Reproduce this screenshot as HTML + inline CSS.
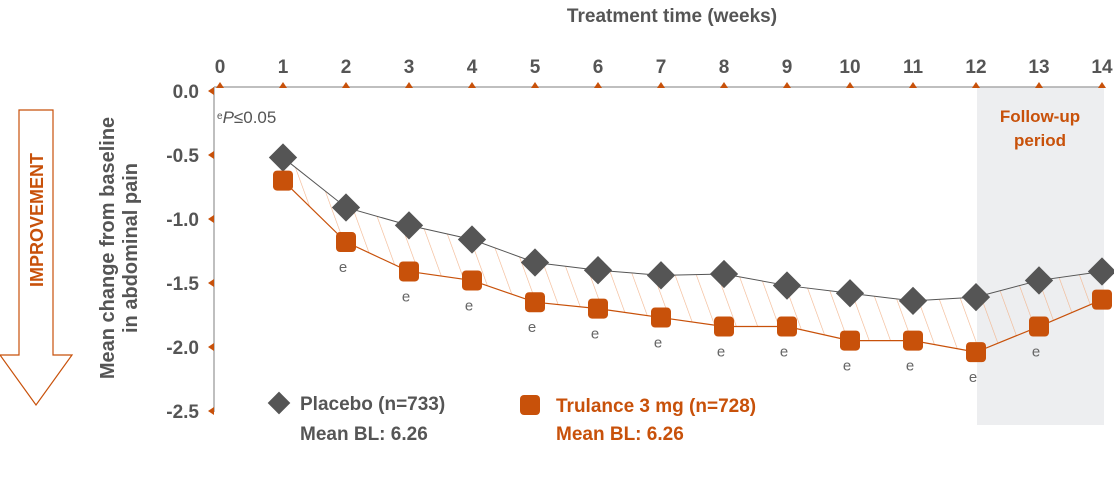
<!DOCTYPE html>
<html><head><meta charset="utf-8"><style>
body{margin:0;background:#fff;width:1114px;height:474px;overflow:hidden}
svg{font-family:"Liberation Sans",sans-serif}
</style></head><body>
<svg id="chart" width="1114" height="474" viewBox="0 0 1114 474">
<defs>
<pattern id="hatch" patternUnits="userSpaceOnUse" width="20" height="20" patternTransform="rotate(-20)">
<line x1="0" y1="0" x2="0" y2="20" stroke="#f2b48c" stroke-width="1.2"/>
</pattern>
</defs>
<text x="672" y="22" text-anchor="middle" font-size="19" font-weight="bold" fill="#555">Treatment time (weeks)</text>
<rect x="977" y="87" width="127" height="338" fill="#edeef0"/>
<text x="1040" y="122" text-anchor="middle" font-size="17" font-weight="bold" fill="#c8510a">Follow-up</text>
<text x="1040" y="146" text-anchor="middle" font-size="17" font-weight="bold" fill="#c8510a">period</text>
<line x1="214" y1="87" x2="1104" y2="87" stroke="#aaa" stroke-width="1.5"/>
<line x1="214" y1="87" x2="214" y2="412" stroke="#aaa" stroke-width="1.5"/>
<g id="xticks"></g><g id="yticks"></g>
<path id="hatchArea" fill="url(#hatch)"/>
<polyline id="pLine" fill="none" stroke="#555" stroke-width="1"/>
<polyline id="tLine" fill="none" stroke="#c8510a" stroke-width="1.2"/>
<g id="marks"></g>
<text x="217" y="123" font-size="17" fill="#555"><tspan font-size="10" dy="-4">e</tspan><tspan font-style="italic" dy="4">P</tspan>≤0.05</text>
<g>
<path d="M19 110 H53 V355 H72 L36 405 L0 355 H19 Z" fill="none" stroke="#c8510a" stroke-width="1.2"/>
<text x="43" y="220" transform="rotate(-90 43 220)" text-anchor="middle" font-size="18" font-weight="bold" fill="#c8510a">IMPROVEMENT</text>
</g>
<text transform="translate(114 248) rotate(-90)" text-anchor="middle" font-size="20" font-weight="bold" fill="#555">Mean change from baseline</text>
<text transform="translate(137 248) rotate(-90)" text-anchor="middle" font-size="20" font-weight="bold" fill="#555">in abdominal pain</text>
<g>
<rect x="271" y="395" width="16" height="16" fill="#555" transform="rotate(45 279 403)"/>
<text x="300" y="410" font-size="19" font-weight="bold" fill="#555">Placebo (n=733)</text>
<text x="300" y="440" font-size="19" font-weight="bold" fill="#555">Mean BL: 6.26</text>
</g>
<g>
<rect x="520" y="395" width="20" height="20" rx="4" fill="#c8510a"/>
<text x="556" y="412" font-size="19" font-weight="bold" fill="#c8510a">Trulance 3 mg (n=728)</text>
<text x="556" y="440" font-size="19" font-weight="bold" fill="#c8510a">Mean BL: 6.26</text>
</g>
</svg>
<script>
const weeks=[0,1,2,3,4,5,6,7,8,9,10,11,12,13,14];
const yTicks=[0,-0.5,-1,-1.5,-2,-2.5];
const yTickLabels=["0.0","-0.5","-1.0","-1.5","-2.0","-2.5"];
const dataWeeks=[1,2,3,4,5,6,7,8,9,10,11,12,13,14];
const placebo=[-0.52,-0.91,-1.05,-1.16,-1.34,-1.40,-1.44,-1.43,-1.52,-1.58,-1.64,-1.61,-1.48,-1.41];
const trulance=[-0.70,-1.18,-1.41,-1.48,-1.65,-1.70,-1.77,-1.84,-1.84,-1.95,-1.95,-2.04,-1.84,-1.63];
const significant=[false,true,true,true,true,true,true,true,true,true,true,true,true,false];
const NS="http://www.w3.org/2000/svg";
const X=w=>220+w*63, Y=v=>91-v*128;
function mk(t,a,p){const e=document.createElementNS(NS,t);for(const k in a)e.setAttribute(k,a[k]);p.appendChild(e);return e;}
const xt=document.getElementById('xticks'),yt=document.getElementById('yticks'),mg=document.getElementById('marks');
weeks.forEach(w=>{
 const t=mk('text',{x:X(w),y:73,'text-anchor':'middle','font-size':19,'font-weight':'bold',fill:'#555'},xt);t.textContent=w;
 
 
 const p=mk('path',{d:`M${X(w)-4} 88 L${X(w)} 82 L${X(w)+4} 88Z`,fill:'#c8510a'},xt);
 
 
});
yTicks.forEach((v,i)=>{
 const t=mk('text',{x:199,y:Y(v)+7,'text-anchor':'end','font-size':19,'font-weight':'bold',fill:'#555'},yt);t.textContent=yTickLabels[i];
 
 
 const p=mk('path',{d:`M214 ${Y(v)-4} L208 ${Y(v)} L214 ${Y(v)+4}Z`,fill:'#c8510a'},yt);
 
 
});
const pp=dataWeeks.map((w,i)=>X(w)+','+Y(placebo[i]));
const tp=dataWeeks.map((w,i)=>X(w)+','+Y(trulance[i]));
document.getElementById('pLine').setAttribute('points',pp.join(' '));
document.getElementById('tLine').setAttribute('points',tp.join(' '));
document.getElementById('hatchArea').setAttribute('d','M'+pp.join(' L')+' L'+tp.slice().reverse().join(' L')+'Z');
dataWeeks.forEach((w,i)=>{
 const x=X(w),yp=Y(placebo[i]),yq=Y(trulance[i]);
 const d=mk('rect',{x:x-10,y:yp-10,width:20,height:20,fill:'#555',transform:`rotate(45 ${x} ${yp})`},mg);
 
 
 const s=mk('rect',{x:x-10,y:yq-10,width:20,height:20,rx:4,fill:'#c8510a'},mg);
 
 
 if(significant[i]){const e=mk('text',{x:x-3,y:yq+30,'text-anchor':'middle','font-size':15,fill:'#666'},mg);e.textContent='e';
 
 }
});
</script>
</body></html>
